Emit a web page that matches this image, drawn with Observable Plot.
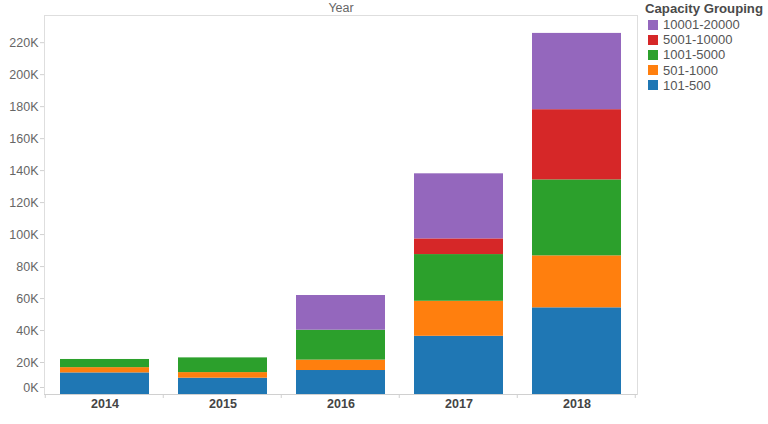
<!DOCTYPE html>
<html>
<head>
<meta charset="utf-8">
<script src="https://cdn.jsdelivr.net/npm/d3@7"></script>
<script src="https://cdn.jsdelivr.net/npm/@observablehq/plot@0.6"></script>
<style>
  html, body { margin: 0; padding: 0; background: #fff; overflow: hidden; }
  #wrap { position: relative; width: 768px; height: 424px; font-family: "Liberation Sans", Arial, sans-serif; }
  #legend { position: absolute; left: 645px; top: 1px; color: #555; white-space: nowrap; width: 122px; }
  #legend .title { font-weight: bold; font-size: 13.2px; line-height: 16px; color: #4a4a4a; white-space: nowrap; }
  #legend .item { display: flex; align-items: center; height: 15.2px; font-size: 13px; white-space: nowrap; }
  #legend .sw { width: 10px; height: 10px; margin-left: 3px; margin-right: 5px; flex: none; }
</style>
</head>
<body>
<div id="wrap">
  <div id="chart"></div>
  <div id="legend"></div>
</div>
<script>
// ---- data (values in units) ----
const years = ["2014", "2015", "2016", "2017", "2018"];
const groups = ["101-500", "501-1000", "1001-5000", "5001-10000", "10001-20000"];
const colors = ["#1f77b4", "#ff7f0e", "#2ca02c", "#d62728", "#9467bd"];
const v101_500      = [13500, 10200, 15000, 36400, 54200];
const v501_1000     = [3300, 3500, 6500, 21900, 32500];
const v1001_5000    = [5100, 9200, 18700, 29200, 47500];
const v5001_10000   = [0, 0, 0, 9800, 43900];
const v10001_20000  = [0, 0, 21700, 40700, 47700];
const yTicks = [0, 20000, 40000, 60000, 80000, 100000, 120000, 140000, 160000, 180000, 200000, 220000];
const legendOrder = ["10001-20000", "5001-10000", "1001-5000", "501-1000", "101-500"];

const series = [v101_500, v501_1000, v1001_5000, v5001_10000, v10001_20000];
const rows = [];
groups.forEach((g, gi) => years.forEach((y, yi) => rows.push({year: y, group: g, value: series[gi][yi]})));

const fmt = d => (d / 1000) + "K";

const plot = Plot.plot({
  width: 768,
  height: 424,
  marginLeft: 44,
  marginRight: 131,
  marginTop: 15,
  marginBottom: 30,
  style: {fontFamily: "Liberation Sans, Arial, sans-serif", fontSize: "12px", background: "#fff", overflow: "visible"},
  x: {domain: years, paddingInner: 0.25, paddingOuter: 0.125, label: null},
  y: {domain: [0, 237000], label: null},
  color: {domain: groups, range: colors},
  marks: [
    Plot.frame({stroke: "#dedede"}),
    Plot.barY(rows, {x: "year", y: "value", fill: "group", order: groups}),
    Plot.axisY(yTicks.filter(t => t > 0), {tickSize: 4, tickPadding: 2, stroke: "#d0d0d0", fill: "#666", tickFormat: fmt, fontSize: 12.5}),
    Plot.axisY([0], {tickSize: 4, tickPadding: 2, stroke: "#d0d0d0", fill: "#666", tickFormat: fmt, dy: -7, fontSize: 12.5}),
    Plot.axisX({tickSize: 0, tickPadding: 5, fill: "#444", fontWeight: "bold", fontSize: 12.5}),
    Plot.text(["Year"], {frameAnchor: "top", dy: -8, lineAnchor: "middle", fill: "#666", fontSize: 12.5})
  ]
});

// category divider ticks below the axis using the plot's own x scale
const xs = plot.scale("x");
const sx = d3.select(plot);
const step = xs.step;
const x0 = xs.apply(years[0]) - step * xs.paddingOuter;
const divs = d3.range(years.length + 1).map(i => x0 + i * step);
sx.append("g").attr("stroke", "#d0d0d0").selectAll("line").data(divs).join("line")
  .attr("x1", d => d).attr("x2", d => d).attr("y1", 394).attr("y2", 398);
sx.append("line").attr("stroke", "#d0d0d0").attr("x1", 44).attr("x2", 637).attr("y1", 394.5).attr("y2", 394.5);

document.getElementById("chart").appendChild(plot);

// legend
const lg = d3.select("#legend");
lg.append("div").attr("class", "title").text("Capacity Grouping");
legendOrder.forEach(g => {
  const it = lg.append("div").attr("class", "item");
  it.append("div").attr("class", "sw").style("background", colors[groups.indexOf(g)]);
  it.append("span").text(g);
});
</script>
</body>
</html>
